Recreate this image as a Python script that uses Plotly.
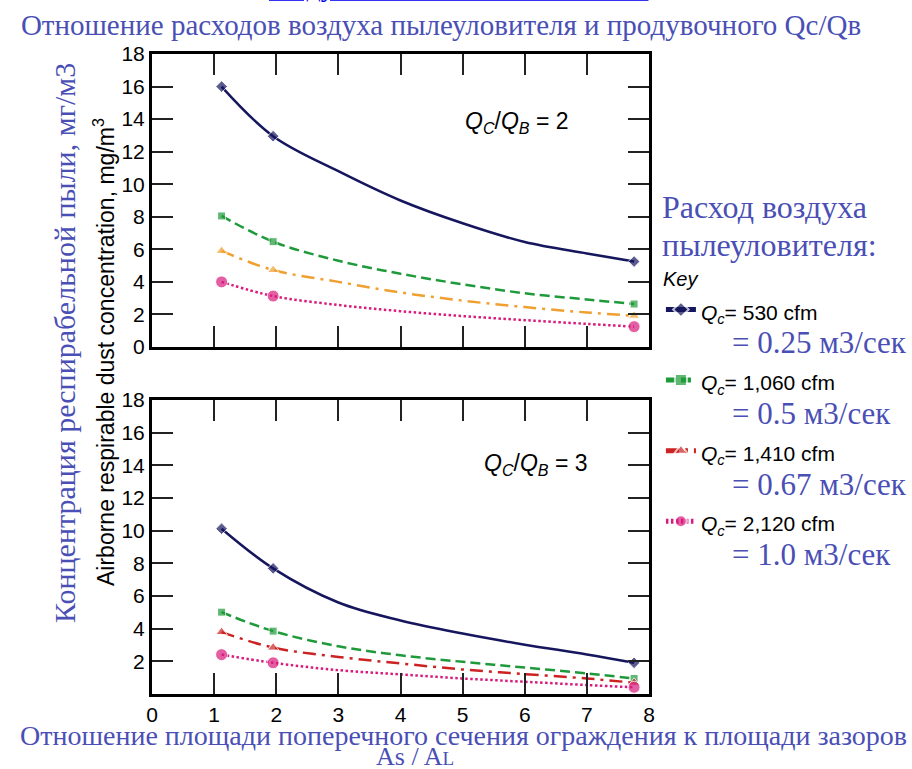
import plotly.graph_objects as go
from plotly.subplots import make_subplots

x_measured = [1.12, 1.95, 7.76]
x_curve = [1.12, 1.95, 3, 4, 5, 6, 7, 7.76]

# Qc/Qb = 2 (top panel)
top_530 = [16.0, 12.95, 10.8, 9.0, 7.6, 6.45, 5.75, 5.25]
top_1060 = [8.05, 6.47, 5.3, 4.5, 3.85, 3.3, 2.92, 2.64]
top_1410 = [5.9, 4.73, 4.0, 3.35, 2.85, 2.45, 2.12, 1.92]
top_2120 = [4.0, 3.13, 2.58, 2.2, 1.9, 1.65, 1.42, 1.25]

# Qc/Qb = 3 (bottom panel)
bot_530 = [10.12, 7.69, 5.6, 4.5, 3.7, 3.02, 2.42, 1.91]
bot_1060 = [5.01, 3.85, 2.92, 2.37, 1.97, 1.62, 1.26, 0.95]
bot_1410 = [3.79, 2.84, 2.27, 1.87, 1.5, 1.22, 0.95, 0.69]
bot_2120 = [2.41, 1.91, 1.46, 1.2, 0.95, 0.75, 0.55, 0.41]

cfm_labels = ["530", "1,060", "1,410", "2,120"]
m3s_labels = ["0.25", "0.5", "0.67", "1.0"]

y_ticks_top = [0, 2, 4, 6, 8, 10, 12, 14, 16, 18]
y_ticks_bot = [2, 4, 6, 8, 10, 12, 14, 16, 18]
x_ticks = [0, 1, 2, 3, 4, 5, 6, 7, 8]

SERIF = "Liberation Serif"
SANS = "Liberation Sans"
RU_BLUE = "#4a4fb5"

styles = [
    dict(color="#16165e", dash="solid", symbol="diamond", size=9),
    dict(color="#1f9a3a", dash="10px,5px", symbol="square", size=8),
    None,  # set per panel (orange on top, red on bottom)
    dict(color="#d81b7c", dash="2.5px,2.5px", symbol="circle", size=12),
]
style_1410_top = dict(color="#f0a030", dash="13px,6px,3px,6px", symbol="triangle-up", size=10)
style_1410_bot = dict(color="#cc2222", dash="13px,6px,3px,6px", symbol="triangle-up", size=10)


def msizes(size):
    return [size if x in x_measured else 0 for x in x_curve]


fig = make_subplots(rows=2, cols=1)

top_series = [top_530, top_1060, top_1410, top_2120]
bot_series = [bot_530, bot_1060, bot_1410, bot_2120]

for i, ys in enumerate(top_series):
    st = styles[i] if i != 2 else style_1410_top
    fig.add_trace(go.Scatter(
        x=x_curve, y=ys, mode="lines+markers", line_shape="spline",
        line=dict(color=st["color"], width=2.5, dash=st["dash"]),
        marker=dict(symbol=st["symbol"], size=msizes(st["size"]), color=st["color"]),
        showlegend=False, cliponaxis=False,
    ), row=1, col=1)

for i, ys in enumerate(bot_series):
    st = styles[i] if i != 2 else style_1410_bot
    pad = "\u00a0" * 4
    name = ("<span style='font-family:Liberation Sans;font-size:21px;color:black'>"
            "<i>Q<sub>c</sub></i>= %s cfm</span><br>"
            "<span style='font-size:31px'>%s= %s м3/сек</span>" % (cfm_labels[i], pad, m3s_labels[i]))
    fig.add_trace(go.Scatter(
        x=x_curve, y=ys, mode="lines+markers", line_shape="spline",
        line=dict(color=st["color"], width=2.5, dash=st["dash"]),
        marker=dict(symbol=st["symbol"], size=msizes(st["size"]), color=st["color"]),
        name=name, cliponaxis=False,
    ), row=2, col=1)

axis_common = dict(
    showline=True, linewidth=3, linecolor="black", mirror="ticks",
    ticks="inside", ticklen=21, tickwidth=2, tickcolor="#222",
    showgrid=False, zeroline=False,
    tickfont=dict(family=SANS, size=21, color="black"),
)

fig.update_layout(
    width=912, height=769,
    margin=dict(l=152, r=263, t=54, b=75, autoexpand=False),
    paper_bgcolor="white", plot_bgcolor="white",
    xaxis=dict(axis_common, domain=[0, 1], range=[0, 8], tickvals=x_ticks, showticklabels=False),
    yaxis=dict(axis_common, domain=[0.5422, 1], range=[0, 18], tickvals=y_ticks_top),
    xaxis2=dict(axis_common, domain=[0, 1], range=[0, 8], tickvals=x_ticks),
    yaxis2=dict(axis_common, domain=[0, 0.4594], range=[0, 18], tickvals=y_ticks_bot),
    title=dict(text="Отношение расходов воздуха пылеуловителя и продувочного Qc/Qв",
               x=441 / 912, xanchor="center", y=1 - 25 / 769, yanchor="middle", yref="container",
               font=dict(family=SERIF, size=29, color=RU_BLUE)),
    legend=dict(x=1.024, xanchor="left", y=0.678, yanchor="top",
                font=dict(family=SERIF, size=26, color=RU_BLUE),
                title=dict(text="<i>Key</i>", font=dict(family=SANS, size=20, color="black")),
                itemsizing="constant", valign="top", bgcolor="rgba(0,0,0,0)",
                tracegroupgap=0),
)

annotations = [
    dict(text="<u>воздуха снижает запыленность!</u>", xref="paper", yref="paper",
         x=(458 - 152) / 497, y=(694 - 4) / 640, xanchor="center", yanchor="bottom",
         font=dict(family=SERIF, size=28, color="#0000ee")),
    dict(text="Концентрация респирабельной пыли, мг/м3", xref="paper", yref="paper",
         x=(64 - 152) / 497, y=(694 - 343) / 640, textangle=-90,
         xanchor="center", yanchor="middle",
         font=dict(family=SERIF, size=30, color=RU_BLUE)),
    dict(text="Airborne respirable dust concentration, mg/m<sup>3</sup>", xref="paper", yref="paper",
         x=(104 - 152) / 497, y=(694 - 352) / 640, textangle=-90,
         xanchor="center", yanchor="middle",
         font=dict(family=SANS, size=23, color="black")),
    dict(text="Расход воздуха", xref="paper", yref="paper",
         x=(660 - 152) / 497, y=(694 - 207) / 640, xanchor="left", yanchor="middle",
         font=dict(family=SERIF, size=32, color=RU_BLUE)),
    dict(text="пылеуловителя:", xref="paper", yref="paper",
         x=(660 - 152) / 497, y=(694 - 245) / 640, xanchor="left", yanchor="middle",
         font=dict(family=SERIF, size=32, color=RU_BLUE)),
    dict(text="Отношение площади поперечного сечения ограждения к площади зазоров",
         xref="paper", yref="paper", x=(463 - 152) / 497, y=(694 - 735) / 640,
         xanchor="center", yanchor="middle",
         font=dict(family=SERIF, size=28, color=RU_BLUE)),
    dict(text="As / A<span style='font-size:19px'>L</span>",
         xref="paper", yref="paper", x=(415 - 152) / 497, y=(694 - 756) / 640,
         xanchor="center", yanchor="middle",
         font=dict(family=SERIF, size=26, color=RU_BLUE)),
    dict(text="<i>Q</i><sub><i>C</i></sub>/<i>Q</i><sub><i>B</i></sub> = 2", xref="x", yref="y",
         x=5.88, y=13.8, font=dict(family=SANS, size=23, color="black")),
    dict(text="<i>Q</i><sub><i>C</i></sub>/<i>Q</i><sub><i>B</i></sub> = 3", xref="x2", yref="y2",
         x=6.18, y=14.06, font=dict(family=SANS, size=23, color="black")),
]
for a in annotations:
    a["showarrow"] = False
fig.update_layout(annotations=annotations)

# page body has a default 8px margin; remove it so the figure sits at the window corner
fig.write_html("out.html", config={"displayModeBar": False},
               post_script="document.body.style.margin='0';")
